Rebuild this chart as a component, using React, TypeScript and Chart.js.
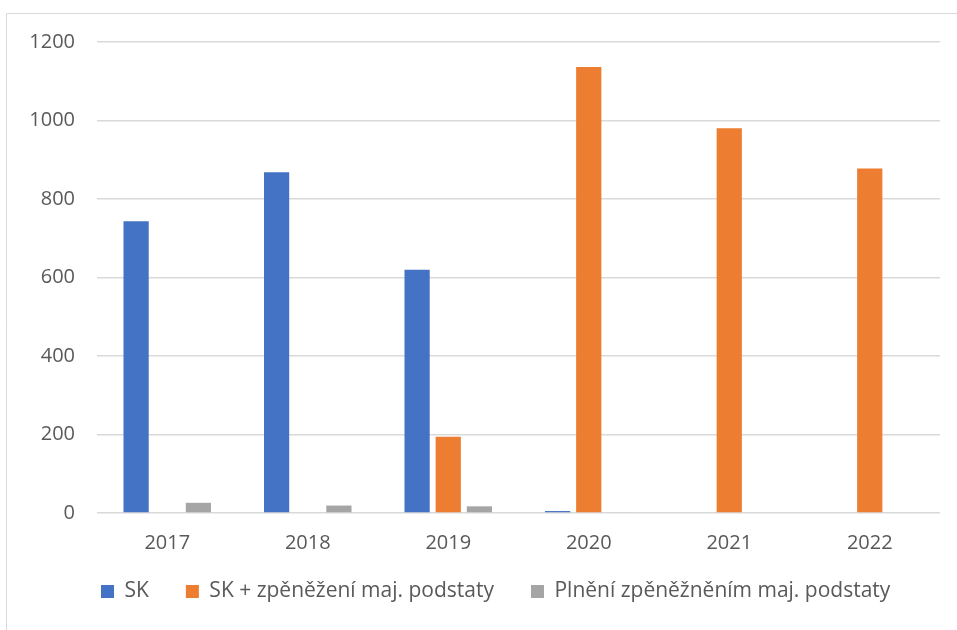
import React, { useEffect, useRef } from "react";
import { Chart, registerables } from "chart.js";

Chart.register(...registerables);

const categories = ["2017", "2018", "2019", "2020", "2021", "2022"];
const skValues = [743, 868, 620, 5, 0, 0];
const skZpenezeniValues = [0, 0, 194, 1136, 980, 878];
const plneniValues = [26, 19, 17, 2, 0, 0];
const seriesLabels = ["SK", "SK + zpěněžení maj. podstaty", "Plnění zpěněžněním maj. podstaty"];
const yTicks = { min: 0, max: 1200, step: 200 };

const FONT = '"Open Sans", "Liberation Sans", sans-serif';
const TEXT_COLOR = "#595959";
const GRID_COLOR = "#d9d9d9";

const LEGEND_H = 57;
const XAXIS_H = 60;
const LEGEND_PAD = 37;
const LEGEND_LEFT = 64;
const LEGEND_TOP = 544;

const borderPlugin = {
  id: "outerBorder",
  beforeDraw(chart: any) {
    const ctx = chart.ctx;
    ctx.save();
    ctx.strokeStyle = "#d9d9d9";
    ctx.lineWidth = 1;
    ctx.beginPath();
    ctx.moveTo(6.5, chart.height + 5);
    ctx.lineTo(6.5, 13.5);
    ctx.lineTo(chart.width + 5, 13.5);
    ctx.stroke();
    ctx.restore();
  },
};

const legendPlacePlugin = {
  id: "legendPlace",
  afterInit(chart: any) {
    const legend = chart.legend;
    if (!legend || legend.__patched) return;
    const orig = legend.fit;
    legend.fit = function () {
      orig.call(this);
      this.height = LEGEND_H;
    };
    legend.__patched = true;
  },
  afterLayout(chart: any) {
    const legend = chart.legend;
    if (!legend) return;
    legend.left = LEGEND_LEFT;
    legend.right = chart.width;
    legend.width = legend.right - legend.left;
    legend.top = LEGEND_TOP;
    legend.bottom = chart.height;
    legend.height = legend.bottom - legend.top;
  },
};

export default function App() {
  const ref = useRef<HTMLCanvasElement | null>(null);

  useEffect(() => {
    if (!ref.current) return;
    const chart = new Chart(ref.current, {
      type: "bar",
      data: {
        labels: categories,
        datasets: [
          { label: seriesLabels[0], data: skValues, backgroundColor: "#4472C4" },
          { label: seriesLabels[1], data: skZpenezeniValues, backgroundColor: "#ED7D31" },
          { label: seriesLabels[2], data: plneniValues, backgroundColor: "#A5A5A5" },
        ],
      },
      options: {
        responsive: false,
        animation: false,
        layout: { padding: { left: 0, right: 17, top: 42, bottom: 0 } },
        datasets: {
          bar: { categoryPercentage: 0.665, barPercentage: 0.81 },
        },
        scales: {
          x: {
            grid: { display: false, drawTicks: false },
            border: { display: false },
            ticks: { color: TEXT_COLOR, font: { family: FONT, size: 20 }, padding: 18 },
            afterFit: (scale: any) => {
              scale.height = XAXIS_H;
            },
          },
          y: {
            min: yTicks.min,
            max: yTicks.max,
            grid: { color: GRID_COLOR, lineWidth: 1.5, drawTicks: false },
            border: { display: false },
            ticks: {
              stepSize: yTicks.step,
              color: TEXT_COLOR,
              font: { family: FONT, size: 20 },
              padding: 22,
              callback: (v: any) => String(v),
            },
            afterFit: (scale: any) => {
              scale.width = 97;
            },
          },
        },
        plugins: {
          legend: {
            position: "bottom",
            align: "start",
            labels: {
              boxWidth: 13,
              boxHeight: 13,
              padding: LEGEND_PAD,
              color: TEXT_COLOR,
              font: { family: FONT, size: 21 },
            },
          },
          tooltip: { enabled: false },
        },
      },
      plugins: [borderPlugin, legendPlacePlugin],
    });
    return () => chart.destroy();
  }, []);

  return (
    <div style={{ position: "fixed", left: 0, top: 0, width: 957, height: 630, background: "#fff" }}>
      <canvas ref={ref} width={957} height={630} />
    </div>
  );
}
